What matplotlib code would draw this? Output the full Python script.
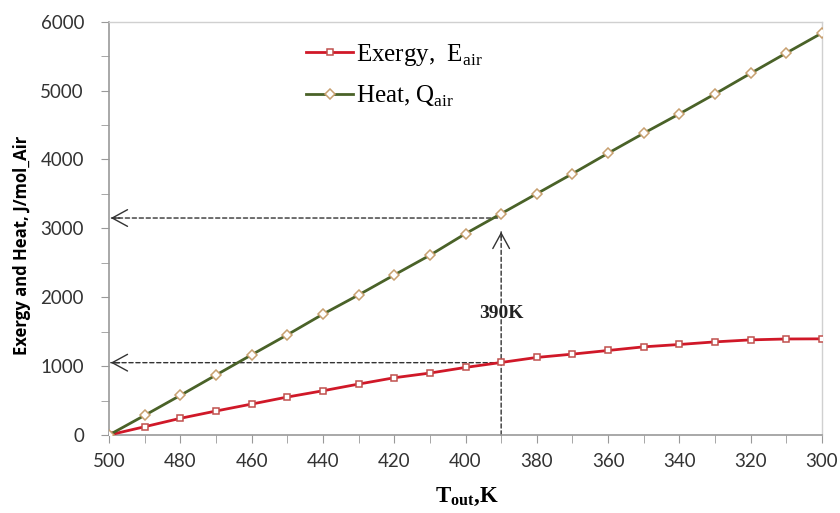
import matplotlib
matplotlib.use("Agg")
import matplotlib.pyplot as plt
from matplotlib.ticker import MultipleLocator

plt.rcParams['mathtext.fontset'] = 'custom'
plt.rcParams['mathtext.rm'] = 'Liberation Serif'
plt.rcParams['mathtext.bf'] = 'Liberation Serif:bold'

temps = [500, 490, 480, 470, 460, 450, 440, 430, 420, 410, 400,
         390, 380, 370, 360, 350, 340, 330, 320, 310, 300]
exergy = [0, 120, 242, 348, 449, 551, 642, 739, 831, 899, 981,
          1053, 1126, 1174, 1227, 1280, 1314, 1352, 1381, 1394, 1396]
heat = [0, 285, 575, 870, 1164, 1454, 1754, 2033, 2323, 2609, 2923,
        3213, 3503, 3793, 4091, 4381, 4662, 4952, 5251, 5546, 5836]
label_exergy = "Exergy,  E$_{\\mathrm{air}}$"
label_heat = "Heat, Q$_{\\mathrm{air}}$"
marker_T = 390
marker_heat = 3150
marker_exergy = 1050
marker_top = 2950

fig = plt.figure(figsize=(8.4, 5.13), dpi=100)
ax = fig.add_axes([109/840, 1-435/513, (822-109)/840, (435-21.7)/513])

ax.plot(temps, exergy, color='#d01828', lw=2.0, marker='s', ms=5,
        mfc='white', mec='#c0504d', mew=1.1, label=label_exergy, zorder=3)
ax.plot(temps, heat, color='#4a6228', lw=2.0, marker='D', ms=5,
        mfc='white', mec='#c8a070', mew=1.1, label=label_heat, zorder=3)

line_kw = dict(arrowstyle='-', linestyle=(0, (3, 2)), color='#333333', lw=1.0,
               shrinkA=0, shrinkB=0)
head_kw = dict(arrowstyle='->,head_length=0.55,head_width=0.3', color='#333333',
               lw=1.0, mutation_scale=20, shrinkA=0, shrinkB=0)


def dashed_arrow(tip, start, back):
    ax.annotate('', xy=tip, xytext=start, arrowprops=line_kw, zorder=2)
    ax.annotate('', xy=tip, xytext=back, arrowprops=head_kw, zorder=2)


dashed_arrow((499.5, marker_heat), (marker_T + 1, marker_heat), (497, marker_heat))
dashed_arrow((499.5, marker_exergy), (marker_T, marker_exergy), (497, marker_exergy))
dashed_arrow((marker_T, marker_top), (marker_T, 0), (marker_T, marker_top - 80))
ax.text(marker_T, 1770, '390K', family='Liberation Serif', fontweight='bold',
        fontsize=14, ha='center', va='center', color='#222222')

ax.set_xlim(500, 300)
ax.set_ylim(0, 6000)
ax.xaxis.set_major_locator(MultipleLocator(20))
ax.xaxis.set_minor_locator(MultipleLocator(10))
ax.yaxis.set_major_locator(MultipleLocator(1000))
ax.yaxis.set_minor_locator(MultipleLocator(500))
ax.tick_params(which='both', direction='out', color='#999999', labelcolor='#333333')
ax.tick_params(which='major', length=6, labelsize=13.5)
ax.tick_params(which='minor', length=6)
ax.tick_params(axis='x', pad=7)
ax.tick_params(axis='y', pad=12)
for lab in ax.get_xticklabels() + ax.get_yticklabels():
    lab.set_family('Lato')

for side in ['left', 'bottom']:
    ax.spines[side].set_color('#999999')
    ax.spines[side].set_linewidth(1.2)
for side in ['top', 'right']:
    ax.spines[side].set_color('#d0d0d0')
    ax.spines[side].set_linewidth(1.0)

ax.set_ylabel('Exergy and Heat, J/mol_Air', family='Open Sans', fontweight='bold',
              fontsize=12)
ax.yaxis.set_label_coords(-(109 - 31) / 713, 0.46)
fig.text(467/840, 1-497/513, 'T$_{\\mathbf{out}}$,K', family='Liberation Serif',
         fontweight='bold', fontsize=16.5, ha='center', va='center')

leg = ax.legend(loc='upper left', bbox_to_anchor=(0.262, 0.975), frameon=False,
                prop={'family': 'Liberation Serif', 'size': 18},
                handlelength=1.9, labelspacing=0.62, handletextpad=0.1,
                borderaxespad=0)

fig.savefig('out.png', dpi=100)
